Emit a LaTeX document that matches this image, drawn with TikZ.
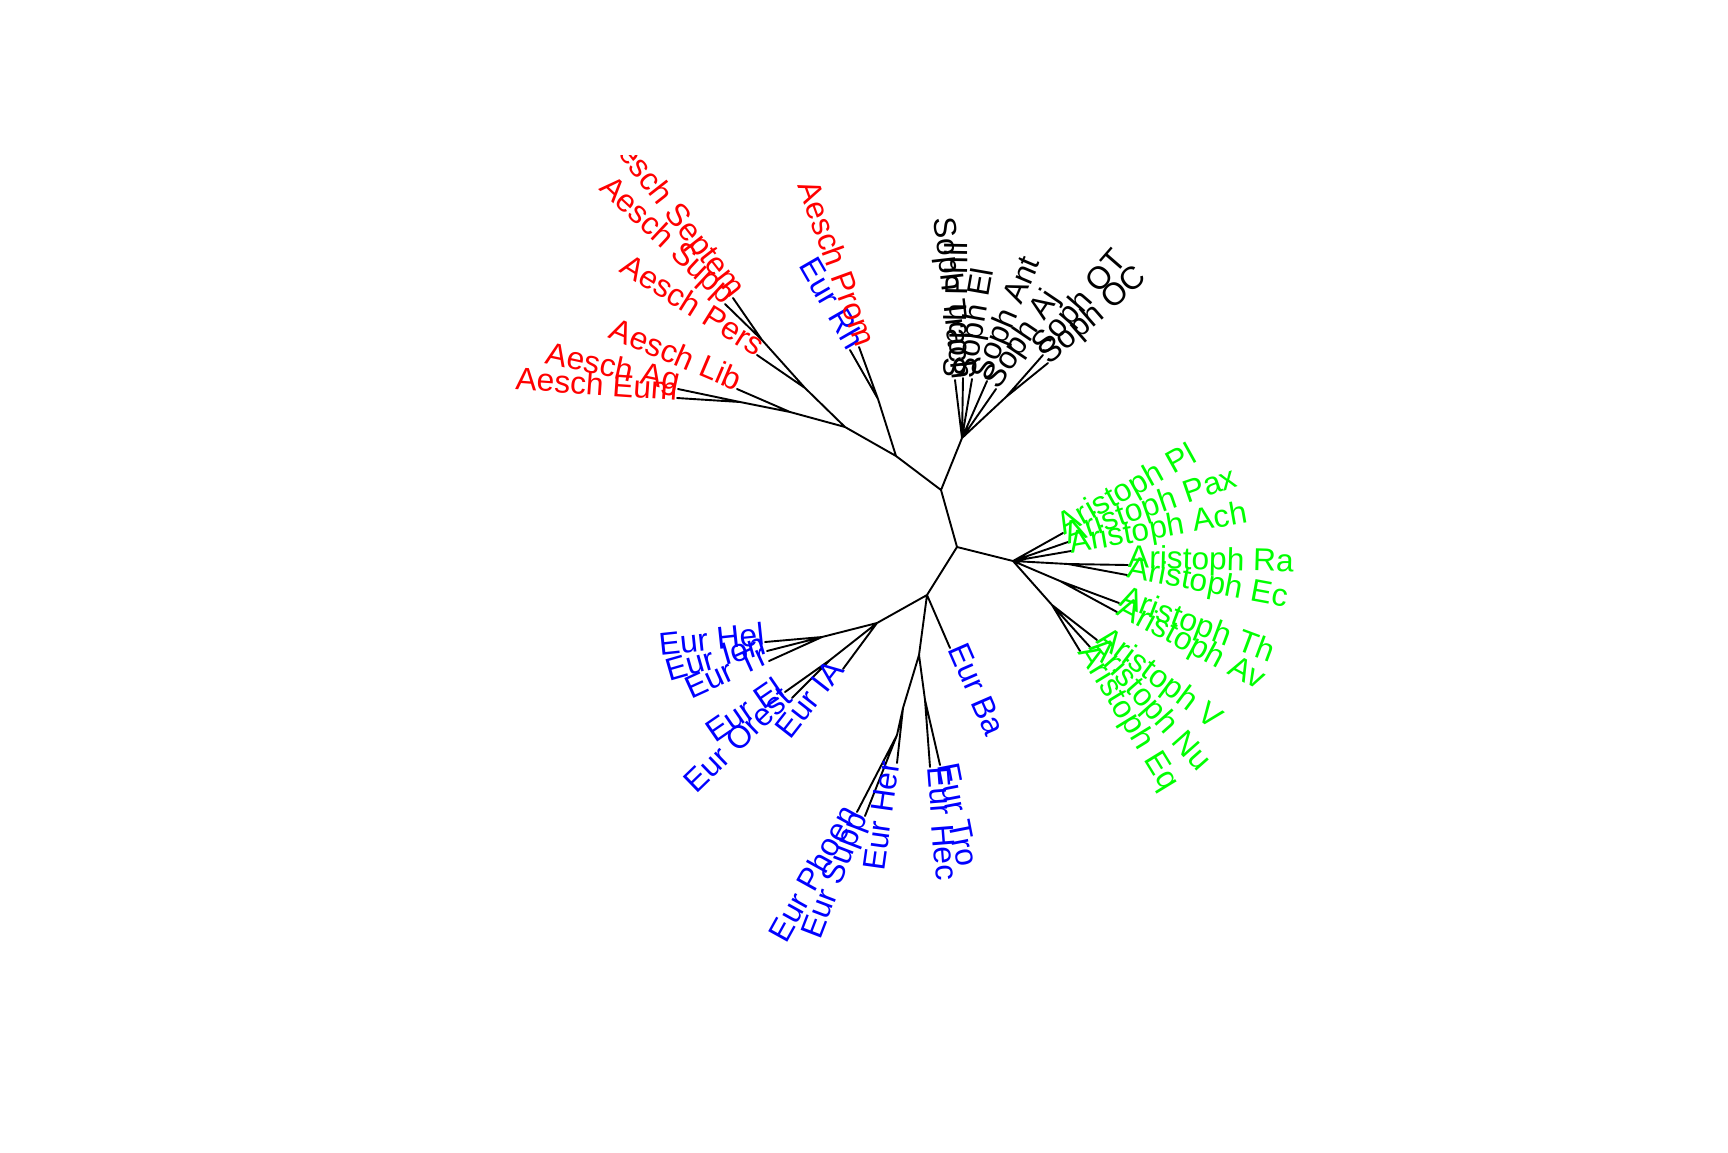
\documentclass[tikz,border=0pt]{standalone}
\usepackage{fontspec}
\setmainfont{Liberation Sans}
\begin{document}
\begin{tikzpicture}[x=1pt,y=-1pt,
  br/.style={draw=black,line width=1.9pt,line cap=round,line join=round},
  lab/.style={inner sep=0pt,outer sep=0pt,font=\fontsize{31.7}{38}\selectfont},
  labw/.style={lab,anchor=mid west,rotate=#1},
  labe/.style={lab,anchor=mid east,rotate=#1}]
\useasboundingbox (0,0) rectangle (1728,1152);
\begin{scope}
\clip (0,155) rectangle (1728,1152);
% internal nodes
\coordinate (A) at (941,490);
\coordinate (B) at (896,456);
\coordinate (C) at (878,399);
\coordinate (D) at (845,427);
\coordinate (E) at (790,412);
\coordinate (E2) at (740,402);
\coordinate (F) at (805,388);
\coordinate (F2) at (762,340);
\coordinate (G) at (962,438);
\coordinate (S) at (1006,397);
\coordinate (H) at (957,547);
\coordinate (I) at (1013,561);
\coordinate (IRE) at (1068,564);
\coordinate (ITA) at (1060,581);
\coordinate (K) at (1052,605);
\coordinate (J) at (927,595);
\coordinate (L) at (877,623);
\coordinate (M) at (822,637);
\coordinate (N) at (830,660);
\coordinate (O) at (919,655);
\coordinate (P) at (903,708);
\coordinate (R) at (897,735);
\coordinate (Q) at (925,700);
% tips
\coordinate (tTrach) at (955,380);
\coordinate (tPhil) at (963,378);
\coordinate (tSEl) at (972,379);
\coordinate (tAnt) at (987,381);
\coordinate (tAj) at (996,389);
\coordinate (tOT) at (1043,355);
\coordinate (tOC) at (1048,363);
\coordinate (tPl) at (1063,533);
\coordinate (tPax) at (1068,542);
\coordinate (tAch) at (1071,551);
\coordinate (tRa) at (1128,565);
\coordinate (tEc) at (1127,575);
\coordinate (tTh) at (1119,603);
\coordinate (tAv) at (1117,612);
\coordinate (tV) at (1097,640);
\coordinate (tNu) at (1090,647);
\coordinate (tEq) at (1080,651);
\coordinate (tBa) at (950,648);
\coordinate (tHer) at (897,763);
\coordinate (tHec) at (930,767);
\coordinate (tTro) at (940,765);
\coordinate (tPhoen) at (857,812);
\coordinate (tESupp) at (865,816);
\coordinate (tHel) at (765,642);
\coordinate (tIon) at (767,651);
\coordinate (tTr) at (769,661);
\coordinate (tEEl) at (785,692);
\coordinate (tOrest) at (792,698);
\coordinate (tIA) at (843,669);
\coordinate (tEum) at (677,398);
\coordinate (tAg) at (678,389);
\coordinate (tLib) at (737,389);
\coordinate (tPers) at (757,355);
\coordinate (tASupp) at (725,304);
\coordinate (tSeptem) at (733,298);
\coordinate (tProm) at (859,347);
\coordinate (tRh) at (850,350);
% edges
\draw[br] (A)--(B) (A)--(G) (A)--(H)
  (B)--(C) (B)--(D)
  (C)--(tProm) (C)--(tRh)
  (D)--(E) (D)--(F)
  (E)--(E2) (E)--(tLib) (E2)--(tAg) (E2)--(tEum)
  (F)--(F2) (F)--(tPers) (F2)--(tSeptem) (F2)--(tASupp)
  (G)--(tTrach) (G)--(tPhil) (G)--(tSEl) (G)--(tAnt) (G)--(tAj) (G)--(S)
  (S)--(tOT) (S)--(tOC)
  (H)--(I) (H)--(J)
  (I)--(tPl) (I)--(tPax) (I)--(tAch) (I)--(IRE) (I)--(ITA) (I)--(K)
  (IRE)--(tRa) (IRE)--(tEc) (ITA)--(tTh) (ITA)--(tAv)
  (K)--(tV) (K)--(tNu) (K)--(tEq)
  (J)--(L) (J)--(O) (J)--(tBa)
  (L)--(M) (L)--(N) (L)--(tIA)
  (M)--(tHel) (M)--(tIon) (M)--(tTr)
  (N)--(tEEl) (N)--(tOrest)
  (O)--(P) (O)--(Q)
  (P)--(tHer) (P)--(R) (R)--(tPhoen) (R)--(tESupp)
  (Q)--(tHec) (Q)--(tTro);
% labels: Sophocles
\node[labe=-83.5] (lTrach) at (tTrach) {Soph Trach};
\node[labw=89] (lPhil) at (tPhil) {Soph Phil};
\node[labw=80] (lSEl) at (tSEl) {Soph El};
\node[labw=67] (lAnt) at (tAnt) {Soph Ant};
\node[labw=56] (lAj) at (tAj) {Soph Aj};
\node[labw=49] (lOT) at (tOT) {Soph OT};
\node[labw=41] (lOC) at (tOC) {Soph OC};
% Aristophanes
\begin{scope}[green]
\node[labw=29] (lPl) at (tPl) {Aristoph Pl};
\node[labw=19] (lPax) at (tPax) {Aristoph Pax};
\node[labw=10] (lAch) at (tAch) {Aristoph Ach};
\node[labw=-1.5] (lRa) at (tRa) {Aristoph Ra};
\node[labw=-10.5] (lEc) at (tEc) {Aristoph Ec};
\node[labw=-20.5] (lTh) at (tTh) {Aristoph Th};
\node[labw=-28] (lAv) at (tAv) {Aristoph Av};
\node[labw=-37] (lV) at (tV) {Aristoph V};
\node[labw=-48.5] (lNu) at (tNu) {Aristoph Nu};
\node[labw=-58.5] (lEq) at (tEq) {Aristoph Eq};
\end{scope}
% Euripides
\begin{scope}[blue]
\node[labw=-66.5] (lBa) at (tBa) {Eur Ba};
\node[labe=82] (lHer) at (tHer) {Eur Her};
\node[labw=-85.5] (lHec) at (tHec) {Eur Hec};
\node[labw=-79] (lTro) at (tTro) {Eur Tro};
\node[labe=61] (lPhoen) at (tPhoen) {Eur Phoen};
\node[labe=69] (lESupp) at (tESupp) {Eur Supp};
\node[labe=6] (lHel) at (tHel) {Eur Hel};
\node[labe=16] (lIon) at (tIon) {Eur Ion};
\node[labe=24.5] (lTr) at (tTr) {Eur Tr};
\node[labe=34.5] (lEEl) at (tEEl) {Eur El};
\node[labe=44] (lOrest) at (tOrest) {Eur Orest};
\node[labe=52] (lIA) at (tIA) {Eur IA};
\node[labe=-60] (lRh) at (tRh) {Eur Rh};
\end{scope}
% Aeschylus
\begin{scope}[red]
\node[labe=-4] (lEum) at (tEum) {Aesch Eum};
\node[labe=-12] (lAg) at (tAg) {Aesch Ag};
\node[labe=-23] (lLib) at (tLib) {Aesch Lib};
\node[labe=-32] (lPers) at (tPers) {Aesch Pers};
\node[labe=-43] (lASupp) at (tASupp) {Aesch Supp};
\node[labe=-52] (lSeptem) at (tSeptem) {Aesch Septem};
\node[labe=-70] (lProm) at (tProm) {Aesch Prom};
\end{scope}
\end{scope}
\end{tikzpicture}
\end{document}
